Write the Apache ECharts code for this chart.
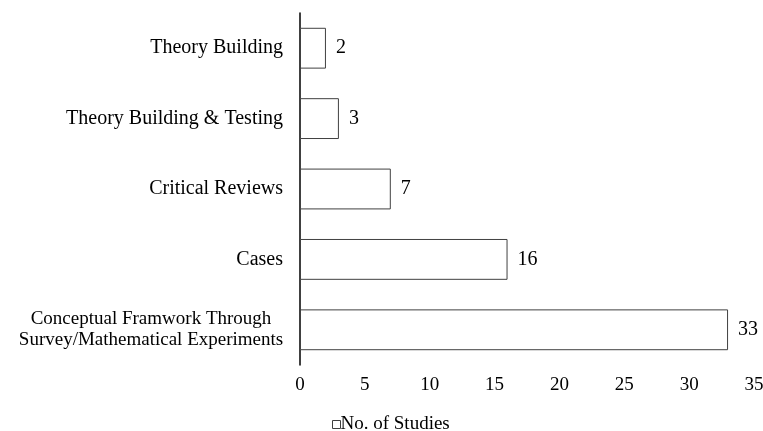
<!DOCTYPE html>
<html><head><meta charset="utf-8">
<script src="https://cdn.jsdelivr.net/npm/echarts@6/dist/echarts.min.js"></script>
<style>html,body{margin:0;padding:0;background:#fff}#c{width:763px;height:431px}</style>
</head><body><div id="c"></div>
<script>
const categories = ["Theory Building", "Theory Building & Testing", "Critical Reviews", "Cases", "Conceptual Framwork Through\nSurvey/Mathematical Experiments"];
const studies = [2, 3, 7, 16, 33];
const xTicks = { min: 0, max: 35, interval: 5 };
const seriesName = "No. of Studies";
const font = "Liberation Serif";
const chart = echarts.init(document.getElementById('c'));
chart.setOption({
  animation: false,
  grid: { left: 300, right: 9, top: 13, bottom: 66, containLabel: false, outerBoundsMode: 'none' },
  legend: {
    top: 410, left: 327, itemWidth: 8, itemHeight: 8, itemGap: 2,
    icon: 'rect',
    textStyle: { fontFamily: font, fontSize: 19, color: '#000', padding: [0, 0, 0, -5] },
    data: [{ name: seriesName, itemStyle: { color: '#fff', borderColor: '#404040', borderWidth: 1 } }]
  },
  xAxis: {
    type: 'value', min: xTicks.min, max: xTicks.max, interval: xTicks.interval,
    axisLine: { show: false }, axisTick: { show: false }, splitLine: { show: false },
    axisLabel: { fontFamily: font, fontSize: 19, color: '#000', margin: 11 }
  },
  yAxis: {
    type: 'category', data: categories, inverse: true,
    axisLine: { lineStyle: { color: '#000', width: 1.5 } },
    axisTick: { show: false },
    axisLabel: {
      fontFamily: font, fontSize: 20, color: '#000', margin: 17, align: 'right',
      formatter: function (v) { return v.indexOf('\n') >= 0 ? '{m|' + v + '}' : v; },
      rich: { m: { fontFamily: font, fontSize: 19, color: '#000', width: 264, align: 'center', lineHeight: 21 } }
    }
  },
  series: [{
    name: seriesName, type: 'bar', data: studies, barWidth: '58%',
    itemStyle: { color: '#fff', borderColor: '#404040', borderWidth: 1 },
    label: { show: true, position: 'right', distance: 10, fontFamily: font, fontSize: 20, color: '#000' }
  }]
});
</script></body></html>
